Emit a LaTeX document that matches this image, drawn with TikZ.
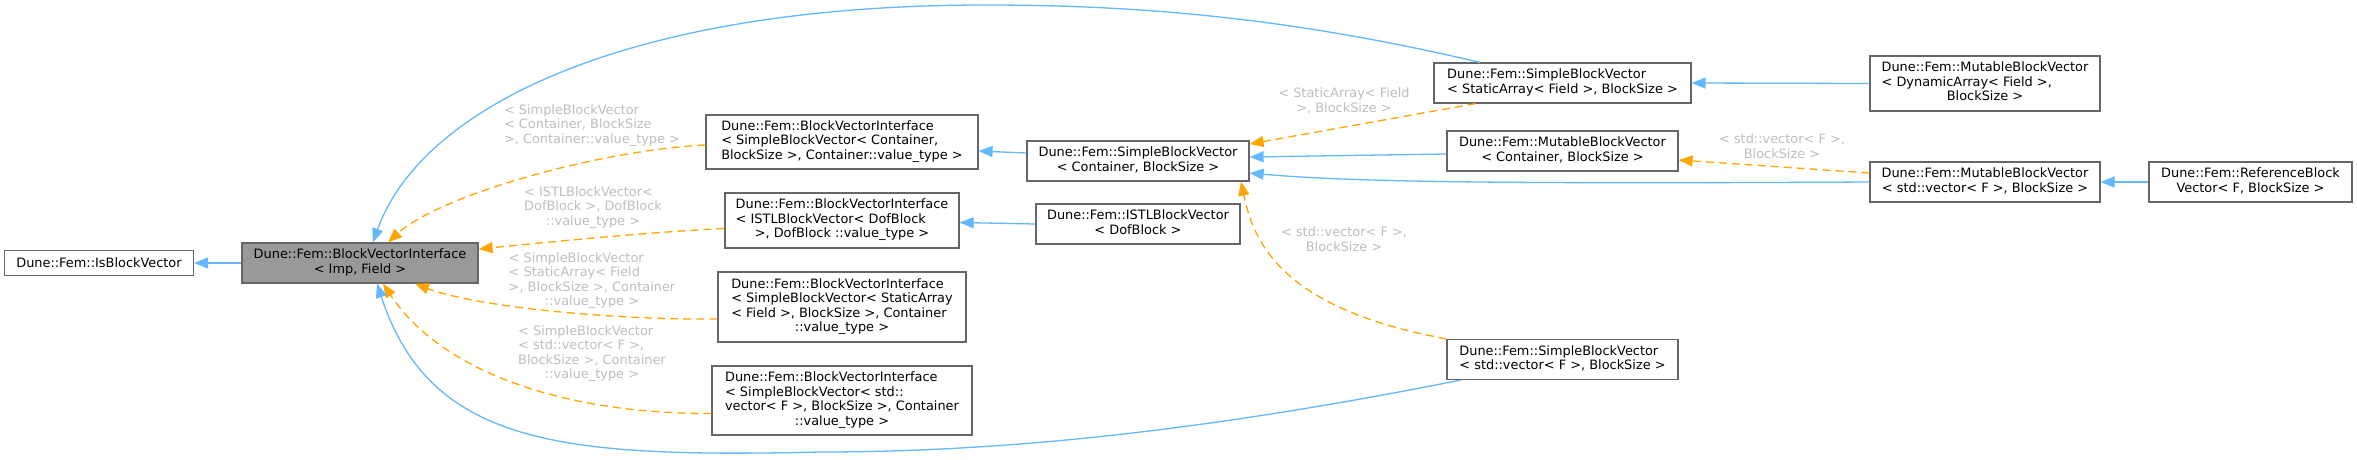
\documentclass[tikz,border=0pt]{standalone}
\usepackage{fontspec}
\setmainfont{DejaVu Sans}
\usetikzlibrary{arrows.meta}
\definecolor{edgeblue}{HTML}{63B8FF}
\definecolor{edgeorange}{HTML}{FFA500}
\definecolor{boxgray}{HTML}{666666}
\definecolor{fillgray}{HTML}{999999}
\definecolor{lblgray}{HTML}{BEBEBE}
\newcommand{\ml}[2]{\begin{tabular}{@{}l@{}}#1\\\multicolumn{1}{@{}c@{}}{#2}\end{tabular}}
\newcommand{\mc}[1]{\begin{tabular}{@{}c@{}}#1\end{tabular}}
\begin{document}
\begin{tikzpicture}[x=1pt,y=-1pt,
  box/.style={draw=boxgray, line width=1.2pt, fill=white, inner sep=0pt, font=\fontsize{12.9pt}{14.5pt}\selectfont, text=black},
  lbl/.style={inner sep=0pt, text=lblgray, font=\fontsize{12.9pt}{14.5pt}\selectfont},
  inh/.style={draw=edgeblue, line width=1.3pt, -{Triangle[length=14pt,width=11pt]}},
  use/.style={draw=edgeorange, line width=1.3pt, dash pattern=on 8pt off 5pt, -{Triangle[length=14pt,width=11pt]}},
]
\useasboundingbox[fill=white] (0,0) rectangle (2357,459);

% nodes
\node[box, minimum width=189pt, minimum height=25pt] (isbv) at (99,263) {Dune::Fem::IsBlockVector};
\node[box, fill=fillgray, minimum width=236pt, minimum height=40pt] (bvi) at (360,263) {\ml{Dune::Fem::BlockVectorInterface}{< Imp, Field >}};
\node[box, minimum width=272pt, minimum height=54pt] (C) at (842,142) {\ml{Dune::Fem::BlockVectorInterface\\< SimpleBlockVector< Container,}{BlockSize >, Container::value\_type >}};
\node[box, minimum width=234pt, minimum height=55pt] (D) at (842,220.5) {\ml{Dune::Fem::BlockVectorInterface\\< ISTLBlockVector< DofBlock}{>, DofBlock ::value\_type >}};
\node[box, minimum width=248pt, minimum height=70pt] (E) at (842,307) {\ml{Dune::Fem::BlockVectorInterface\\< SimpleBlockVector< StaticArray\\< Field >, BlockSize >, Container}{::value\_type >}};
\node[box, minimum width=260pt, minimum height=69pt] (F) at (842,400.5) {\ml{Dune::Fem::BlockVectorInterface\\< SimpleBlockVector< std::\\vector< F >, BlockSize >, Container}{::value\_type >}};
\node[box, minimum width=222pt, minimum height=40pt] (sbvc) at (1138,161) {\ml{Dune::Fem::SimpleBlockVector}{< Container, BlockSize >}};
\node[box, minimum width=204pt, minimum height=40pt] (istl) at (1138,224) {\ml{Dune::Fem::ISTLBlockVector}{< DofBlock >}};
\node[box, minimum width=257pt, minimum height=40pt] (sbvsa) at (1562.5,83) {\ml{Dune::Fem::SimpleBlockVector}{< StaticArray< Field >, BlockSize >}};
\node[box, minimum width=231pt, minimum height=40pt] (mbvc) at (1562.5,151) {\ml{Dune::Fem::MutableBlockVector}{< Container, BlockSize >}};
\node[box, minimum width=231pt, minimum height=40pt] (sbvsv) at (1562.5,359.5) {\ml{Dune::Fem::SimpleBlockVector}{< std::vector< F >, BlockSize >}};
\node[box, minimum width=230pt, minimum height=55pt] (mbvd) at (1985,83.5) {\ml{Dune::Fem::MutableBlockVector\\< DynamicArray< Field >,}{BlockSize >}};
\node[box, minimum width=230pt, minimum height=40pt] (mbvsv) at (1985,182) {\ml{Dune::Fem::MutableBlockVector}{< std::vector< F >, BlockSize >}};
\node[box, minimum width=203pt, minimum height=40pt] (refbv) at (2250.5,182) {\ml{Dune::Fem::ReferenceBlock}{Vector< F, BlockSize >}};

% labels
\node[lbl] (lC) at (592,126) {\ml{< SimpleBlockVector\\< Container, BlockSize}{>, Container::value\_type >}};
\node[lbl] (lD) at (593,208) {\ml{< ISTLBlockVector<\\DofBlock >, DofBlock}{::value\_type >}};
\node[lbl] (lE) at (592,281) {\ml{< SimpleBlockVector\\< StaticArray< Field\\ >, BlockSize >, Container}{::value\_type >}};
\node[lbl] (lF) at (592,354) {\ml{< SimpleBlockVector\\< std::vector< F >,\\ BlockSize >, Container}{::value\_type >}};
\node[lbl] (lSA) at (1344,102) {\mc{< StaticArray< Field\\>, BlockSize >}};
\node[lbl] (lSV) at (1344,241) {\mc{< std::vector< F >,\\BlockSize >}};
\node[lbl] (lMV) at (1782,148) {\mc{< std::vector< F >,\\BlockSize >}};

% connectors
\draw[inh] (bvi.west) -- (isbv.east);
\draw[use] ([yshift=-3pt]C.west) .. controls (600,150) and (440,195) .. ([xshift=28pt]bvi.north);
\draw[use] ([yshift=-8pt]D.west) .. controls (650,232) and (550,242) .. ([yshift=14pt]bvi.east);
\draw[use] ([yshift=-12pt]E.west) .. controls (600,320) and (470,305) .. ([xshift=55pt]bvi.south);
\draw[use] ([yshift=-13pt]F.west) .. controls (560,414) and (440,370) .. ([xshift=23pt]bvi.south);
\draw[inh] ([xshift=-82.5pt]sbvsa.north) .. controls (1300,20) and (1150,5) .. (986,5) .. controls (620,5) and (420,110) .. ([xshift=13pt]bvi.north);
\draw[inh] ([xshift=-102pt]sbvsv.south) .. controls (1200,432) and (1000,452) .. (820,452) .. controls (560,458) and (430,445) .. ([xshift=17pt]bvi.south);
\draw[inh] ([yshift=8pt]sbvc.west) -- ([yshift=-9pt]C.east);
\draw[inh] (istl.west) -- ([yshift=-2pt]D.east);
\draw[use] ([xshift=-87pt]sbvsa.south) -- ([yshift=17pt]sbvc.east);
\draw[inh] ([yshift=-3pt]mbvc.west) -- ([yshift=4pt]sbvc.east);
\draw[inh] (mbvsv.west) .. controls (1500,184) and (1350,182) .. ([yshift=-12pt]sbvc.east);
\draw[use] (sbvsv.north west) .. controls (1290,310) and (1255,250) .. ([xshift=103pt]sbvc.south);
\draw[inh] (mbvd.west) -- (sbvsa.east);
\draw[use] ([yshift=9pt]mbvsv.west) -- ([yshift=-9pt]mbvc.east);
\draw[inh] (refbv.west) -- (mbvsv.east);
\end{tikzpicture}
\end{document}
